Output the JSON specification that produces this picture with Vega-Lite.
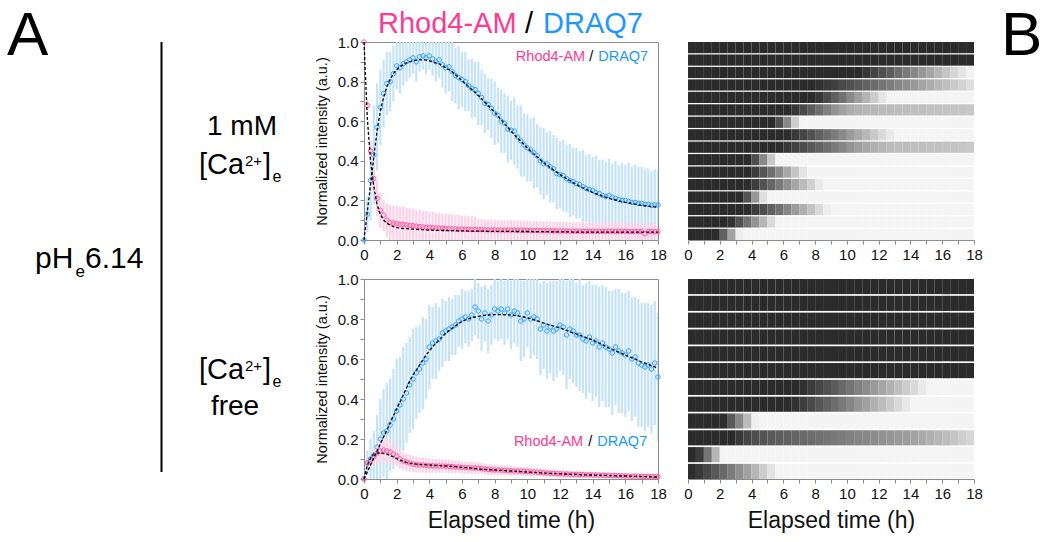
{
"$schema": "https://vega.github.io/schema/vega-lite/v6.json",
"padding": {"left": 0, "top": 5, "right": 0, "bottom": 0},
"background": "white",
"config": {
  "font": "Liberation Sans",
  "view": {"stroke": null},
  "axis": {"grid": false, "domainColor": "#8c8c8c", "tickColor": "#8c8c8c", "labelColor": "#111", "titleColor": "#111", "labelFontSize": 15, "titleFontWeight": "normal", "labelOverlap": false}
},
"datasets": {
"bins": [{"i":1,"t0":0,"t1":0.5},{"i":2,"t0":0.5,"t1":1},{"i":3,"t0":1,"t1":1.5},{"i":4,"t0":1.5,"t1":2},{"i":5,"t0":2,"t1":2.5},{"i":6,"t0":2.5,"t1":3},{"i":7,"t0":3,"t1":3.5},{"i":8,"t0":3.5,"t1":4},{"i":9,"t0":4,"t1":4.5},{"i":10,"t0":4.5,"t1":5},{"i":11,"t0":5,"t1":5.5},{"i":12,"t0":5.5,"t1":6},{"i":13,"t0":6,"t1":6.5},{"i":14,"t0":6.5,"t1":7},{"i":15,"t0":7,"t1":7.5},{"i":16,"t0":7.5,"t1":8},{"i":17,"t0":8,"t1":8.5},{"i":18,"t0":8.5,"t1":9},{"i":19,"t0":9,"t1":9.5},{"i":20,"t0":9.5,"t1":10},{"i":21,"t0":10,"t1":10.5},{"i":22,"t0":10.5,"t1":11},{"i":23,"t0":11,"t1":11.5},{"i":24,"t0":11.5,"t1":12},{"i":25,"t0":12,"t1":12.5},{"i":26,"t0":12.5,"t1":13},{"i":27,"t0":13,"t1":13.5},{"i":28,"t0":13.5,"t1":14},{"i":29,"t0":14,"t1":14.5},{"i":30,"t0":14.5,"t1":15},{"i":31,"t0":15,"t1":15.5},{"i":32,"t0":15.5,"t1":16},{"i":33,"t0":16,"t1":16.5},{"i":34,"t0":16.5,"t1":17},{"i":35,"t0":17,"t1":17.5},{"i":36,"t0":17.5,"t1":18}],
"hm": [
{"p":"top","r":1,"v":[0,0,0,0,0,0,0,0,0,0,0,0,0,0,0,0,0,0,0,0,0,0,0,0,0,0,0,0,0,0,0,0,0,0,0,0]},
{"p":"top","r":2,"v":[0,0,0,0,0,0,0,0,0,0,0,0,0,0,0,0,0,0,0,0,0,0,0,0,0,0,0,0,0,0,0,0,0,0,0,0]},
{"p":"top","r":3,"v":[0,0,0,0,0,0,0,0,0,0,0,0,0,0,0,0,0,0,0,0,0,0,0.07,0.14,0.21,0.28,0.36,0.43,0.5,0.57,0.64,0.72,0.79,0.86,0.93,0.99]},
{"p":"top","r":4,"v":[0,0,0,0,0,0,0,0,0,0,0,0,0,0,0,0,0.03,0.08,0.12,0.17,0.21,0.26,0.31,0.35,0.4,0.44,0.49,0.53,0.58,0.63,0.67,0.72,0.76,0.81,0.85,0.9]},
{"p":"top","r":5,"v":[0,0,0,0,0,0,0,0,0,0,0,0,0,0,0,0,0.07,0.18,0.29,0.39,0.5,0.61,0.71,0.82,0.93,1,1,1,1,1,1,1,1,1,1,1]},
{"p":"top","r":6,"v":[0,0,0,0,0,0,0,0,0,0,0,0,0,0.07,0.17,0.27,0.37,0.46,0.55,0.62,0.67,0.7,0.72,0.73,0.74,0.74,0.75,0.75,0.76,0.76,0.77,0.77,0.78,0.78,0.79,0.8]},
{"p":"top","r":7,"v":[0,0,0,0,0,0,0,0,0,0,0,0.2,0.5,0.83,1,1,1,1,1,1,1,1,1,1,1,1,1,1,1,1,1,1,1,1,1,1]},
{"p":"top","r":8,"v":[0,0,0,0,0,0,0,0,0,0,0,0,0.01,0.08,0.15,0.22,0.3,0.37,0.44,0.51,0.59,0.66,0.73,0.8,0.88,0.95,1,1,1,1,1,1,1,1,1,1]},
{"p":"top","r":9,"v":[0,0,0,0,0,0,0,0,0,0,0,0.02,0.07,0.13,0.19,0.25,0.31,0.37,0.43,0.49,0.55,0.6,0.65,0.69,0.72,0.74,0.75,0.75,0.76,0.76,0.77,0.77,0.78,0.78,0.79,0.8]},
{"p":"top","r":10,"v":[0,0,0,0,0,0,0,0,0.2,0.5,0.8,1,1,1,1,1,1,1,1,1,1,1,1,1,1,1,1,1,1,1,1,1,1,1,1,1]},
{"p":"top","r":11,"v":[0,0,0,0,0,0,0,0,0.1,0.24,0.38,0.51,0.65,0.79,0.93,1,1,1,1,1,1,1,1,1,1,1,1,1,1,1,1,1,1,1,1,1]},
{"p":"top","r":12,"v":[0,0,0,0,0,0,0,0.01,0.11,0.22,0.32,0.43,0.53,0.64,0.74,0.84,0.95,1,1,1,1,1,1,1,1,1,1,1,1,1,1,1,1,1,1,1]},
{"p":"top","r":13,"v":[0,0,0,0,0,0,0,0.23,0.57,0.9,1,1,1,1,1,1,1,1,1,1,1,1,1,1,1,1,1,1,1,1,1,1,1,1,1,1]},
{"p":"top","r":14,"v":[0,0,0,0,0,0,0,0.01,0.11,0.2,0.3,0.39,0.49,0.59,0.68,0.78,0.88,0.97,1,1,1,1,1,1,1,1,1,1,1,1,1,1,1,1,1,1]},
{"p":"top","r":15,"v":[0,0,0,0,0,0.05,0.22,0.38,0.55,0.72,0.88,1,1,1,1,1,1,1,1,1,1,1,1,1,1,1,1,1,1,1,1,1,1,1,1,1]},
{"p":"top","r":16,"v":[0,0,0,0,0.3,0.63,0.97,1,1,1,1,1,1,1,1,1,1,1,1,1,1,1,1,1,1,1,1,1,1,1,1,1,1,1,1,1]},
{"p":"bot","r":1,"v":[0,0,0,0,0,0,0,0,0,0,0,0,0,0,0,0,0,0,0,0,0,0,0,0,0,0,0,0,0,0,0,0,0,0,0,0]},
{"p":"bot","r":2,"v":[0,0,0,0,0,0,0,0,0,0,0,0,0,0,0,0,0,0,0,0,0,0,0,0,0,0,0,0,0,0,0,0,0,0,0,0]},
{"p":"bot","r":3,"v":[0,0,0,0,0,0,0,0,0,0,0,0,0,0,0,0,0,0,0,0,0,0,0,0,0,0,0,0,0,0,0,0,0,0,0,0]},
{"p":"bot","r":4,"v":[0,0,0,0,0,0,0,0,0,0,0,0,0,0,0,0,0,0,0,0,0,0,0,0,0,0,0,0,0,0,0,0,0,0,0,0]},
{"p":"bot","r":5,"v":[0,0,0,0,0,0,0,0,0,0,0,0,0,0,0,0,0,0,0,0,0,0,0,0,0,0,0,0,0,0,0,0,0,0,0,0]},
{"p":"bot","r":6,"v":[0,0,0,0,0,0,0,0,0,0,0,0,0,0,0,0,0,0,0,0,0,0,0,0,0,0,0,0,0,0,0,0,0,0,0,0]},
{"p":"bot","r":7,"v":[0,0,0,0,0,0,0,0,0,0,0,0,0,0,0.03,0.09,0.15,0.21,0.27,0.34,0.4,0.46,0.52,0.58,0.64,0.7,0.76,0.82,0.88,0.95,1,1,1,1,1,1]},
{"p":"bot","r":8,"v":[0,0,0,0,0,0,0,0,0,0,0,0,0,0.04,0.11,0.17,0.24,0.3,0.37,0.43,0.49,0.56,0.62,0.69,0.75,0.81,0.88,0.94,1,1,1,1,1,1,1,1]},
{"p":"bot","r":9,"v":[0,0,0,0,0.02,0.26,0.5,0.74,0.98,1,1,1,1,1,1,1,1,1,1,1,1,1,1,1,1,1,1,1,1,1,1,1,1,1,1,1]},
{"p":"bot","r":10,"v":[0,0,0,0,0,0,0.08,0.15,0.2,0.23,0.26,0.28,0.3,0.32,0.34,0.36,0.38,0.4,0.42,0.44,0.46,0.48,0.5,0.52,0.54,0.56,0.58,0.6,0.63,0.66,0.69,0.72,0.75,0.79,0.83,0.87]},
{"p":"bot","r":11,"v":[0,0.1,0.4,0.72,1,1,1,1,1,1,1,1,1,1,1,1,1,1,1,1,1,1,1,1,1,1,1,1,1,1,1,1,1,1,1,1]},
{"p":"bot","r":12,"v":[0.02,0.08,0.16,0.25,0.34,0.44,0.53,0.62,0.72,0.82,0.92,1,1,1,1,1,1,1,1,1,1,1,1,1,1,1,1,1,1,1,1,1,1,1,1,1]}
],
"top": [
{"t":0,"d":0,"de":0,"df":0,"r":1,"re":0,"rf":1},
{"t":0.2,"d":0.13,"de":0.09,"df":0.14,"r":0.68,"re":0.03,"rf":0.62},
{"t":0.4,"d":0.3,"de":0.2,"df":0.28,"r":0.45,"re":0.05,"rf":0.4},
{"t":0.6,"d":0.43,"de":0.25,"df":0.42,"r":0.31,"re":0.08,"rf":0.27},
{"t":0.8,"d":0.57,"de":0.22,"df":0.55,"r":0.21,"re":0.09,"rf":0.18},
{"t":1,"d":0.67,"de":0.19,"df":0.65,"r":0.15,"re":0.09,"rf":0.13},
{"t":1.2,"d":0.74,"de":0.17,"df":0.72,"r":0.125,"re":0.08,"rf":0.1},
{"t":1.4,"d":0.79,"de":0.16,"df":0.775,"r":0.1,"re":0.085,"rf":0.085},
{"t":1.6,"d":0.8,"de":0.15,"df":0.81,"r":0.088,"re":0.09,"rf":0.075},
{"t":1.8,"d":0.84,"de":0.14,"df":0.84,"r":0.085,"re":0.09,"rf":0.068},
{"t":2,"d":0.88,"de":0.12,"df":0.86,"r":0.082,"re":0.09,"rf":0.063},
{"t":2.2,"d":0.87,"de":0.13,"df":0.875,"r":0.08,"re":0.088,"rf":0.06},
{"t":2.4,"d":0.89,"de":0.11,"df":0.885,"r":0.079,"re":0.09,"rf":0.058},
{"t":2.6,"d":0.9,"de":0.1,"df":0.895,"r":0.076,"re":0.085,"rf":0.057},
{"t":2.8,"d":0.91,"de":0.09,"df":0.9,"r":0.074,"re":0.087,"rf":0.056},
{"t":3,"d":0.92,"de":0.08,"df":0.905,"r":0.072,"re":0.085,"rf":0.055},
{"t":3.2,"d":0.9,"de":0.1,"df":0.908,"r":0.07,"re":0.083,"rf":0.054},
{"t":3.4,"d":0.925,"de":0.075,"df":0.91,"r":0.068,"re":0.085,"rf":0.053},
{"t":3.6,"d":0.93,"de":0.07,"df":0.91,"r":0.066,"re":0.08,"rf":0.052},
{"t":3.8,"d":0.92,"de":0.08,"df":0.908,"r":0.064,"re":0.082,"rf":0.051},
{"t":4,"d":0.93,"de":0.07,"df":0.905,"r":0.063,"re":0.078,"rf":0.05},
{"t":4.2,"d":0.915,"de":0.085,"df":0.9,"r":0.062,"re":0.08,"rf":0.05},
{"t":4.4,"d":0.9,"de":0.1,"df":0.895,"r":0.061,"re":0.076,"rf":0.049},
{"t":4.6,"d":0.91,"de":0.09,"df":0.89,"r":0.06,"re":0.078,"rf":0.049},
{"t":4.8,"d":0.885,"de":0.115,"df":0.88,"r":0.06,"re":0.074,"rf":0.048},
{"t":5,"d":0.87,"de":0.13,"df":0.87,"r":0.058,"re":0.075,"rf":0.048},
{"t":5.2,"d":0.875,"de":0.125,"df":0.86,"r":0.057,"re":0.072,"rf":0.047},
{"t":5.4,"d":0.85,"de":0.15,"df":0.85,"r":0.056,"re":0.074,"rf":0.047},
{"t":5.6,"d":0.83,"de":0.14,"df":0.835,"r":0.056,"re":0.07,"rf":0.047},
{"t":5.8,"d":0.82,"de":0.16,"df":0.82,"r":0.055,"re":0.072,"rf":0.046},
{"t":6,"d":0.81,"de":0.14,"df":0.805,"r":0.055,"re":0.068,"rf":0.046},
{"t":6.2,"d":0.8,"de":0.15,"df":0.79,"r":0.054,"re":0.07,"rf":0.046},
{"t":6.4,"d":0.78,"de":0.13,"df":0.775,"r":0.054,"re":0.066,"rf":0.045},
{"t":6.6,"d":0.765,"de":0.15,"df":0.76,"r":0.053,"re":0.068,"rf":0.045},
{"t":6.8,"d":0.76,"de":0.14,"df":0.745,"r":0.053,"re":0.065,"rf":0.045},
{"t":7,"d":0.74,"de":0.16,"df":0.73,"r":0.052,"re":0.052,"rf":0.045},
{"t":7.2,"d":0.72,"de":0.14,"df":0.713,"r":0.052,"re":0.052,"rf":0.045},
{"t":7.4,"d":0.69,"de":0.15,"df":0.696,"r":0.052,"re":0.052,"rf":0.045},
{"t":7.6,"d":0.685,"de":0.13,"df":0.679,"r":0.051,"re":0.051,"rf":0.044},
{"t":7.8,"d":0.665,"de":0.15,"df":0.662,"r":0.051,"re":0.051,"rf":0.044},
{"t":8,"d":0.64,"de":0.16,"df":0.645,"r":0.051,"re":0.051,"rf":0.044},
{"t":8.2,"d":0.63,"de":0.14,"df":0.626,"r":0.05,"re":0.05,"rf":0.044},
{"t":8.4,"d":0.6,"de":0.16,"df":0.607,"r":0.05,"re":0.05,"rf":0.044},
{"t":8.6,"d":0.59,"de":0.15,"df":0.588,"r":0.05,"re":0.05,"rf":0.044},
{"t":8.8,"d":0.56,"de":0.17,"df":0.569,"r":0.05,"re":0.05,"rf":0.044},
{"t":9,"d":0.555,"de":0.15,"df":0.55,"r":0.05,"re":0.05,"rf":0.044},
{"t":9.2,"d":0.55,"de":0.17,"df":0.533,"r":0.05,"re":0.05,"rf":0.043},
{"t":9.4,"d":0.52,"de":0.16,"df":0.516,"r":0.05,"re":0.05,"rf":0.043},
{"t":9.6,"d":0.5,"de":0.18,"df":0.499,"r":0.049,"re":0.049,"rf":0.043},
{"t":9.8,"d":0.48,"de":0.16,"df":0.482,"r":0.049,"re":0.049,"rf":0.043},
{"t":10,"d":0.465,"de":0.17,"df":0.465,"r":0.049,"re":0.049,"rf":0.043},
{"t":10.2,"d":0.455,"de":0.16,"df":0.45,"r":0.048,"re":0.048,"rf":0.043},
{"t":10.4,"d":0.44,"de":0.18,"df":0.435,"r":0.048,"re":0.048,"rf":0.042},
{"t":10.6,"d":0.425,"de":0.16,"df":0.42,"r":0.048,"re":0.048,"rf":0.042},
{"t":10.8,"d":0.4,"de":0.17,"df":0.405,"r":0.047,"re":0.047,"rf":0.042},
{"t":11,"d":0.385,"de":0.18,"df":0.39,"r":0.047,"re":0.047,"rf":0.042},
{"t":11.2,"d":0.385,"de":0.16,"df":0.378,"r":0.047,"re":0.047,"rf":0.042},
{"t":11.4,"d":0.37,"de":0.18,"df":0.366,"r":0.047,"re":0.047,"rf":0.042},
{"t":11.6,"d":0.36,"de":0.17,"df":0.354,"r":0.046,"re":0.046,"rf":0.041},
{"t":11.8,"d":0.335,"de":0.18,"df":0.342,"r":0.046,"re":0.046,"rf":0.041},
{"t":12,"d":0.33,"de":0.17,"df":0.33,"r":0.046,"re":0.046,"rf":0.041},
{"t":12.2,"d":0.325,"de":0.18,"df":0.32,"r":0.046,"re":0.046,"rf":0.041},
{"t":12.4,"d":0.31,"de":0.17,"df":0.31,"r":0.045,"re":0.045,"rf":0.041},
{"t":12.6,"d":0.3,"de":0.185,"df":0.3,"r":0.045,"re":0.045,"rf":0.041},
{"t":12.8,"d":0.295,"de":0.17,"df":0.29,"r":0.045,"re":0.045,"rf":0.04},
{"t":13,"d":0.285,"de":0.18,"df":0.28,"r":0.045,"re":0.045,"rf":0.04},
{"t":13.2,"d":0.28,"de":0.17,"df":0.272,"r":0.045,"re":0.045,"rf":0.04},
{"t":13.4,"d":0.27,"de":0.185,"df":0.264,"r":0.044,"re":0.044,"rf":0.04},
{"t":13.6,"d":0.26,"de":0.17,"df":0.256,"r":0.044,"re":0.044,"rf":0.04},
{"t":13.8,"d":0.255,"de":0.18,"df":0.248,"r":0.044,"re":0.044,"rf":0.04},
{"t":14,"d":0.25,"de":0.17,"df":0.24,"r":0.044,"re":0.044,"rf":0.04},
{"t":14.2,"d":0.24,"de":0.185,"df":0.234,"r":0.044,"re":0.044,"rf":0.04},
{"t":14.4,"d":0.235,"de":0.17,"df":0.228,"r":0.044,"re":0.044,"rf":0.04},
{"t":14.6,"d":0.225,"de":0.18,"df":0.222,"r":0.044,"re":0.044,"rf":0.04},
{"t":14.8,"d":0.22,"de":0.175,"df":0.216,"r":0.044,"re":0.044,"rf":0.04},
{"t":15,"d":0.225,"de":0.185,"df":0.21,"r":0.044,"re":0.044,"rf":0.04},
{"t":15.2,"d":0.215,"de":0.17,"df":0.206,"r":0.044,"re":0.044,"rf":0.04},
{"t":15.4,"d":0.21,"de":0.19,"df":0.202,"r":0.044,"re":0.044,"rf":0.04},
{"t":15.6,"d":0.205,"de":0.175,"df":0.198,"r":0.044,"re":0.044,"rf":0.04},
{"t":15.8,"d":0.2,"de":0.19,"df":0.194,"r":0.044,"re":0.044,"rf":0.04},
{"t":16,"d":0.2,"de":0.18,"df":0.19,"r":0.044,"re":0.044,"rf":0.04},
{"t":16.2,"d":0.195,"de":0.195,"df":0.187,"r":0.043,"re":0.043,"rf":0.04},
{"t":16.4,"d":0.19,"de":0.18,"df":0.184,"r":0.043,"re":0.043,"rf":0.04},
{"t":16.6,"d":0.19,"de":0.19,"df":0.181,"r":0.043,"re":0.043,"rf":0.04},
{"t":16.8,"d":0.185,"de":0.185,"df":0.178,"r":0.043,"re":0.043,"rf":0.04},
{"t":17,"d":0.185,"de":0.185,"df":0.175,"r":0.043,"re":0.043,"rf":0.04},
{"t":17.2,"d":0.18,"de":0.18,"df":0.173,"r":0.032,"re":0.032,"rf":0.04},
{"t":17.4,"d":0.18,"de":0.18,"df":0.171,"r":0.043,"re":0.043,"rf":0.04},
{"t":17.6,"d":0.175,"de":0.175,"df":0.169,"r":0.043,"re":0.043,"rf":0.04},
{"t":17.8,"d":0.178,"de":0.178,"df":0.167,"r":0.043,"re":0.043,"rf":0.04},
{"t":18,"d":0.177,"de":0.177,"df":0.165,"r":0.042,"re":0.042,"rf":0.04}
],
"bot": [
{"t":0,"d":0,"de":0,"df":0,"r":0,"re":0,"rf":0},
{"t":0.2,"d":0.08,"de":0.06,"df":0.035,"r":0.08,"re":0.02,"rf":0.07},
{"t":0.4,"d":0.1,"de":0.1,"df":0.07,"r":0.09,"re":0.03,"rf":0.105},
{"t":0.6,"d":0.12,"de":0.12,"df":0.105,"r":0.11,"re":0.045,"rf":0.125},
{"t":0.8,"d":0.16,"de":0.16,"df":0.14,"r":0.13,"re":0.055,"rf":0.13},
{"t":1,"d":0.2,"de":0.2,"df":0.175,"r":0.14,"re":0.06,"rf":0.13},
{"t":1.2,"d":0.23,"de":0.22,"df":0.21,"r":0.145,"re":0.06,"rf":0.128},
{"t":1.4,"d":0.24,"de":0.24,"df":0.245,"r":0.14,"re":0.062,"rf":0.124},
{"t":1.6,"d":0.27,"de":0.23,"df":0.28,"r":0.135,"re":0.06,"rf":0.118},
{"t":1.8,"d":0.3,"de":0.25,"df":0.315,"r":0.125,"re":0.055,"rf":0.11},
{"t":2,"d":0.34,"de":0.26,"df":0.35,"r":0.115,"re":0.05,"rf":0.102},
{"t":2.2,"d":0.37,"de":0.24,"df":0.385,"r":0.1,"re":0.048,"rf":0.095},
{"t":2.4,"d":0.4,"de":0.26,"df":0.42,"r":0.09,"re":0.045,"rf":0.088},
{"t":2.6,"d":0.43,"de":0.25,"df":0.455,"r":0.085,"re":0.043,"rf":0.083},
{"t":2.8,"d":0.47,"de":0.24,"df":0.49,"r":0.08,"re":0.042,"rf":0.079},
{"t":3,"d":0.5,"de":0.25,"df":0.52,"r":0.075,"re":0.04,"rf":0.076},
{"t":3.2,"d":0.53,"de":0.23,"df":0.545,"r":0.072,"re":0.04,"rf":0.074},
{"t":3.4,"d":0.55,"de":0.22,"df":0.57,"r":0.07,"re":0.038,"rf":0.073},
{"t":3.6,"d":0.58,"de":0.23,"df":0.595,"r":0.07,"re":0.038,"rf":0.072},
{"t":3.8,"d":0.6,"de":0.2,"df":0.62,"r":0.068,"re":0.037,"rf":0.071},
{"t":4,"d":0.66,"de":0.21,"df":0.64,"r":0.066,"re":0.036,"rf":0.07},
{"t":4.2,"d":0.68,"de":0.18,"df":0.66,"r":0.066,"re":0.035,"rf":0.069},
{"t":4.4,"d":0.69,"de":0.19,"df":0.678,"r":0.065,"re":0.035,"rf":0.068},
{"t":4.6,"d":0.7,"de":0.16,"df":0.695,"r":0.065,"re":0.034,"rf":0.067},
{"t":4.8,"d":0.73,"de":0.17,"df":0.712,"r":0.065,"re":0.034,"rf":0.066},
{"t":5,"d":0.74,"de":0.15,"df":0.727,"r":0.064,"re":0.033,"rf":0.065},
{"t":5.2,"d":0.75,"de":0.16,"df":0.741,"r":0.063,"re":0.033,"rf":0.064},
{"t":5.4,"d":0.76,"de":0.14,"df":0.754,"r":0.062,"re":0.032,"rf":0.063},
{"t":5.6,"d":0.77,"de":0.15,"df":0.766,"r":0.06,"re":0.032,"rf":0.062},
{"t":5.8,"d":0.79,"de":0.13,"df":0.777,"r":0.06,"re":0.031,"rf":0.06},
{"t":6,"d":0.8,"de":0.15,"df":0.787,"r":0.058,"re":0.031,"rf":0.058},
{"t":6.2,"d":0.81,"de":0.13,"df":0.795,"r":0.057,"re":0.03,"rf":0.057},
{"t":6.4,"d":0.8,"de":0.14,"df":0.801,"r":0.056,"re":0.03,"rf":0.056},
{"t":6.6,"d":0.82,"de":0.13,"df":0.806,"r":0.055,"re":0.03,"rf":0.054},
{"t":6.8,"d":0.86,"de":0.14,"df":0.81,"r":0.055,"re":0.029,"rf":0.052},
{"t":7,"d":0.84,"de":0.14,"df":0.813,"r":0.054,"re":0.029,"rf":0.05},
{"t":7.2,"d":0.8,"de":0.16,"df":0.816,"r":0.052,"re":0.028,"rf":0.049},
{"t":7.4,"d":0.83,"de":0.14,"df":0.818,"r":0.05,"re":0.028,"rf":0.048},
{"t":7.6,"d":0.79,"de":0.16,"df":0.82,"r":0.047,"re":0.027,"rf":0.047},
{"t":7.8,"d":0.82,"de":0.15,"df":0.821,"r":0.046,"re":0.027,"rf":0.046},
{"t":8,"d":0.85,"de":0.15,"df":0.822,"r":0.045,"re":0.026,"rf":0.045},
{"t":8.2,"d":0.84,"de":0.15,"df":0.822,"r":0.045,"re":0.026,"rf":0.044},
{"t":8.4,"d":0.85,"de":0.15,"df":0.822,"r":0.044,"re":0.025,"rf":0.043},
{"t":8.6,"d":0.83,"de":0.16,"df":0.822,"r":0.043,"re":0.025,"rf":0.042},
{"t":8.8,"d":0.85,"de":0.15,"df":0.821,"r":0.042,"re":0.024,"rf":0.041},
{"t":9,"d":0.82,"de":0.17,"df":0.82,"r":0.041,"re":0.024,"rf":0.04},
{"t":9.2,"d":0.84,"de":0.16,"df":0.818,"r":0.04,"re":0.023,"rf":0.039},
{"t":9.4,"d":0.83,"de":0.17,"df":0.816,"r":0.04,"re":0.023,"rf":0.038},
{"t":9.6,"d":0.79,"de":0.2,"df":0.813,"r":0.039,"re":0.023,"rf":0.037},
{"t":9.8,"d":0.8,"de":0.19,"df":0.81,"r":0.038,"re":0.022,"rf":0.036},
{"t":10,"d":0.83,"de":0.17,"df":0.806,"r":0.037,"re":0.022,"rf":0.035},
{"t":10.2,"d":0.8,"de":0.2,"df":0.801,"r":0.036,"re":0.022,"rf":0.034},
{"t":10.4,"d":0.81,"de":0.19,"df":0.796,"r":0.035,"re":0.022,"rf":0.033},
{"t":10.6,"d":0.8,"de":0.2,"df":0.791,"r":0.034,"re":0.021,"rf":0.032},
{"t":10.8,"d":0.75,"de":0.23,"df":0.786,"r":0.033,"re":0.021,"rf":0.031},
{"t":11,"d":0.77,"de":0.22,"df":0.78,"r":0.031,"re":0.021,"rf":0.03},
{"t":11.2,"d":0.74,"de":0.24,"df":0.775,"r":0.03,"re":0.02,"rf":0.029},
{"t":11.4,"d":0.76,"de":0.23,"df":0.77,"r":0.029,"re":0.02,"rf":0.028},
{"t":11.6,"d":0.74,"de":0.25,"df":0.765,"r":0.028,"re":0.02,"rf":0.028},
{"t":11.8,"d":0.75,"de":0.24,"df":0.76,"r":0.027,"re":0.02,"rf":0.027},
{"t":12,"d":0.77,"de":0.23,"df":0.755,"r":0.026,"re":0.019,"rf":0.026},
{"t":12.2,"d":0.76,"de":0.24,"df":0.749,"r":0.025,"re":0.019,"rf":0.025},
{"t":12.4,"d":0.72,"de":0.27,"df":0.743,"r":0.025,"re":0.018,"rf":0.025},
{"t":12.6,"d":0.75,"de":0.25,"df":0.737,"r":0.024,"re":0.018,"rf":0.024},
{"t":12.8,"d":0.74,"de":0.26,"df":0.731,"r":0.023,"re":0.018,"rf":0.023},
{"t":13,"d":0.72,"de":0.26,"df":0.725,"r":0.023,"re":0.017,"rf":0.023},
{"t":13.2,"d":0.72,"de":0.28,"df":0.719,"r":0.022,"re":0.017,"rf":0.022},
{"t":13.4,"d":0.7,"de":0.27,"df":0.713,"r":0.022,"re":0.017,"rf":0.021},
{"t":13.6,"d":0.69,"de":0.29,"df":0.707,"r":0.021,"re":0.016,"rf":0.021},
{"t":13.8,"d":0.71,"de":0.28,"df":0.701,"r":0.021,"re":0.016,"rf":0.02},
{"t":14,"d":0.68,"de":0.29,"df":0.695,"r":0.02,"re":0.016,"rf":0.02},
{"t":14.2,"d":0.69,"de":0.28,"df":0.687,"r":0.02,"re":0.016,"rf":0.019},
{"t":14.4,"d":0.66,"de":0.3,"df":0.679,"r":0.019,"re":0.015,"rf":0.019},
{"t":14.6,"d":0.68,"de":0.29,"df":0.671,"r":0.019,"re":0.015,"rf":0.018},
{"t":14.8,"d":0.66,"de":0.3,"df":0.663,"r":0.018,"re":0.015,"rf":0.018},
{"t":15,"d":0.65,"de":0.29,"df":0.655,"r":0.018,"re":0.015,"rf":0.017},
{"t":15.2,"d":0.63,"de":0.31,"df":0.648,"r":0.017,"re":0.015,"rf":0.017},
{"t":15.4,"d":0.66,"de":0.29,"df":0.641,"r":0.017,"re":0.014,"rf":0.016},
{"t":15.6,"d":0.64,"de":0.31,"df":0.634,"r":0.016,"re":0.014,"rf":0.016},
{"t":15.8,"d":0.63,"de":0.3,"df":0.627,"r":0.016,"re":0.014,"rf":0.015},
{"t":16,"d":0.62,"de":0.31,"df":0.62,"r":0.015,"re":0.014,"rf":0.015},
{"t":16.2,"d":0.64,"de":0.3,"df":0.613,"r":0.015,"re":0.014,"rf":0.014},
{"t":16.4,"d":0.6,"de":0.31,"df":0.606,"r":0.014,"re":0.013,"rf":0.014},
{"t":16.6,"d":0.61,"de":0.3,"df":0.599,"r":0.014,"re":0.013,"rf":0.013},
{"t":16.8,"d":0.58,"de":0.32,"df":0.592,"r":0.014,"re":0.013,"rf":0.013},
{"t":17,"d":0.57,"de":0.31,"df":0.585,"r":0.013,"re":0.013,"rf":0.012},
{"t":17.2,"d":0.56,"de":0.32,"df":0.579,"r":0.013,"re":0.013,"rf":0.012},
{"t":17.4,"d":0.57,"de":0.31,"df":0.573,"r":0.013,"re":0.012,"rf":0.011},
{"t":17.6,"d":0.55,"de":0.32,"df":0.567,"r":0.012,"re":0.012,"rf":0.011},
{"t":17.8,"d":0.58,"de":0.31,"df":0.561,"r":0.012,"re":0.012,"rf":0.01},
{"t":18,"d":0.51,"de":0.32,"df":0.555,"r":0.012,"re":0.012,"rf":0.01}
]
},
"columns": 3,
"align": "each",
"bounds": "flush",
"spacing": {"row": 39, "column": 30},
"concat": [
{
 "width": 334, "height": 198,
 "data": {"values": [{}]},
 "layer": [
  {"mark": {"type": "rule", "color": "#000", "strokeWidth": 2},
   "encoding": {"x": {"datum": 161.5, "scale": {"domain": [0, 334], "nice": false, "zero": false}, "axis": null},
                "y": {"datum": 0, "scale": {"domain": [0, 198], "nice": false, "zero": false, "reverse": true}, "axis": null},
                "y2": {"datum": 430}}},
  {"mark": {"type": "text", "text": "A", "fontSize": 62, "align": "left", "baseline": "alphabetic", "color": "#000"},
   "encoding": {"x": {"datum": 7, "axis": null}, "y": {"datum": 13, "axis": null}}},
  {"mark": {"type": "text", "text": "B", "fontSize": 62, "align": "left", "baseline": "alphabetic", "color": "#000"},
   "encoding": {"x": {"datum": 1001, "axis": null}, "y": {"datum": 13, "axis": null}}},
  {"mark": {"type": "text", "text": "Rhod4-AM", "fontSize": 29, "align": "left", "baseline": "alphabetic", "color": "#ff3a93"},
   "encoding": {"x": {"datum": 378, "axis": null}, "y": {"datum": -9, "axis": null}}},
  {"mark": {"type": "text", "text": "/", "fontSize": 29, "align": "left", "baseline": "alphabetic", "color": "#000"},
   "encoding": {"x": {"datum": 525, "axis": null}, "y": {"datum": -9, "axis": null}}},
  {"mark": {"type": "text", "text": "DRAQ7", "fontSize": 29, "align": "left", "baseline": "alphabetic", "color": "#1e98ff"},
   "encoding": {"x": {"datum": 543, "axis": null}, "y": {"datum": -9, "axis": null}}},
  {"mark": {"type": "text", "text": "pH", "fontSize": 30, "align": "left", "baseline": "alphabetic", "color": "#000"},
   "encoding": {"x": {"datum": 35, "axis": null}, "y": {"datum": 226, "axis": null}}},
  {"mark": {"type": "text", "text": "e", "fontSize": 17, "align": "left", "baseline": "alphabetic", "color": "#000"},
   "encoding": {"x": {"datum": 75.5, "axis": null}, "y": {"datum": 235, "axis": null}}},
  {"mark": {"type": "text", "text": "6.14", "fontSize": 30, "align": "left", "baseline": "alphabetic", "color": "#000"},
   "encoding": {"x": {"datum": 85, "axis": null}, "y": {"datum": 226, "axis": null}}},
  {"mark": {"type": "text", "text": "1 mM", "fontSize": 28, "align": "center", "baseline": "alphabetic", "color": "#000"},
   "encoding": {"x": {"datum": 242, "axis": null}, "y": {"datum": 93, "axis": null}}},
  {"mark": {"type": "text", "text": "[Ca", "fontSize": 29, "align": "left", "baseline": "alphabetic", "color": "#000"},
   "encoding": {"x": {"datum": 199, "axis": null}, "y": {"datum": 132, "axis": null}}},
  {"mark": {"type": "text", "text": "2+", "fontSize": 15, "align": "left", "baseline": "alphabetic", "color": "#000"},
   "encoding": {"x": {"datum": 245, "axis": null}, "y": {"datum": 124, "axis": null}}},
  {"mark": {"type": "text", "text": "]", "fontSize": 29, "align": "left", "baseline": "alphabetic", "color": "#000"},
   "encoding": {"x": {"datum": 263, "axis": null}, "y": {"datum": 132, "axis": null}}},
  {"mark": {"type": "text", "text": "e", "fontSize": 16, "align": "left", "baseline": "alphabetic", "color": "#000"},
   "encoding": {"x": {"datum": 272.5, "axis": null}, "y": {"datum": 140, "axis": null}}}
 ]
},
{
 "width": 294, "height": 198,
 "data": {"name": "top"},
 "view": {"stroke": "#8c8c8c"},
 "layer": [
  {"mark": {"type": "errorbar", "color": "#c4e3fb", "thickness": 2.2, "clip": true},
   "encoding": {
     "x": {"field": "t", "type": "quantitative", "title": null, "scale": {"domain": [0, 18], "nice": false},
           "axis": {"title": null, "values": [0,1,2,3,4,5,6,7,8,9,10,11,12,13,14,15,16,17,18], "labelExpr": "datum.value % 2 == 0 ? datum.label : ''", "labelFlush": false, "labelOverlap": false, "tickSize": 4, "labelPadding": 3}},
     "y": {"field": "d", "type": "quantitative", "title": "Normalized intensity (a.u.)", "scale": {"domain": [0, 1], "nice": false, "clamp": true},
           "axis": {"title": "Normalized intensity (a.u.)", "titleFontSize": 14.5, "titlePadding": 8, "values": [0,0.1,0.2,0.3,0.4,0.5,0.6,0.7,0.8,0.9,1], "labelExpr": "round(datum.value*10) % 2 == 0 ? format(datum.value, '.1f') : ''", "labelOverlap": false, "tickSize": 4, "labelPadding": 2}},
     "yError": {"field": "de"}}},
  {"mark": {"type": "errorbar", "color": "#ffcfe3", "thickness": 2.2, "clip": true},
   "encoding": {
     "x": {"field": "t", "type": "quantitative", "title": null, "scale": {"domain": [0, 18], "nice": false},
           "axis": {"title": null, "values": [0,1,2,3,4,5,6,7,8,9,10,11,12,13,14,15,16,17,18], "labelExpr": "datum.value % 2 == 0 ? datum.label : ''", "labelFlush": false, "labelOverlap": false, "tickSize": 4, "labelPadding": 3}},
     "y": {"field": "r", "type": "quantitative", "title": "Normalized intensity (a.u.)", "scale": {"domain": [0, 1], "nice": false, "clamp": true},
           "axis": {"title": "Normalized intensity (a.u.)", "titleFontSize": 14.5, "titlePadding": 8, "values": [0,0.1,0.2,0.3,0.4,0.5,0.6,0.7,0.8,0.9,1], "labelExpr": "round(datum.value*10) % 2 == 0 ? format(datum.value, '.1f') : ''", "labelOverlap": false, "tickSize": 4, "labelPadding": 2}},
     "yError": {"field": "re"}}},
  {"mark": {"type": "point", "filled": false, "color": "#3aa3f5", "size": 20, "strokeWidth": 1, "opacity": 1},
   "encoding": {
     "x": {"field": "t", "type": "quantitative", "title": null, "scale": {"domain": [0, 18], "nice": false},
           "axis": {"title": null, "values": [0,1,2,3,4,5,6,7,8,9,10,11,12,13,14,15,16,17,18], "labelExpr": "datum.value % 2 == 0 ? datum.label : ''", "labelFlush": false, "labelOverlap": false, "tickSize": 4, "labelPadding": 3}},
     "y": {"field": "d", "type": "quantitative", "title": "Normalized intensity (a.u.)", "scale": {"domain": [0, 1], "nice": false, "clamp": true},
           "axis": {"title": "Normalized intensity (a.u.)", "titleFontSize": 14.5, "titlePadding": 8, "values": [0,0.1,0.2,0.3,0.4,0.5,0.6,0.7,0.8,0.9,1], "labelExpr": "round(datum.value*10) % 2 == 0 ? format(datum.value, '.1f') : ''", "labelOverlap": false, "tickSize": 4, "labelPadding": 2}}}},
  {"mark": {"type": "point", "filled": false, "color": "#ff58a6", "size": 20, "strokeWidth": 1, "opacity": 1},
   "encoding": {
     "x": {"field": "t", "type": "quantitative", "title": null, "scale": {"domain": [0, 18], "nice": false},
           "axis": {"title": null, "values": [0,1,2,3,4,5,6,7,8,9,10,11,12,13,14,15,16,17,18], "labelExpr": "datum.value % 2 == 0 ? datum.label : ''", "labelFlush": false, "labelOverlap": false, "tickSize": 4, "labelPadding": 3}},
     "y": {"field": "r", "type": "quantitative", "title": "Normalized intensity (a.u.)", "scale": {"domain": [0, 1], "nice": false, "clamp": true},
           "axis": {"title": "Normalized intensity (a.u.)", "titleFontSize": 14.5, "titlePadding": 8, "values": [0,0.1,0.2,0.3,0.4,0.5,0.6,0.7,0.8,0.9,1], "labelExpr": "round(datum.value*10) % 2 == 0 ? format(datum.value, '.1f') : ''", "labelOverlap": false, "tickSize": 4, "labelPadding": 2}}}},
  {"mark": {"type": "line", "color": "#000", "strokeWidth": 1.3, "strokeDash": [3, 2]},
   "encoding": {
     "x": {"field": "t", "type": "quantitative", "title": null, "scale": {"domain": [0, 18], "nice": false},
           "axis": {"title": null, "values": [0,1,2,3,4,5,6,7,8,9,10,11,12,13,14,15,16,17,18], "labelExpr": "datum.value % 2 == 0 ? datum.label : ''", "labelFlush": false, "labelOverlap": false, "tickSize": 4, "labelPadding": 3}},
     "y": {"field": "df", "type": "quantitative", "title": "Normalized intensity (a.u.)", "scale": {"domain": [0, 1], "nice": false, "clamp": true},
           "axis": {"title": "Normalized intensity (a.u.)", "titleFontSize": 14.5, "titlePadding": 8, "values": [0,0.1,0.2,0.3,0.4,0.5,0.6,0.7,0.8,0.9,1], "labelExpr": "round(datum.value*10) % 2 == 0 ? format(datum.value, '.1f') : ''", "labelOverlap": false, "tickSize": 4, "labelPadding": 2}}}},
  {"mark": {"type": "line", "color": "#000", "strokeWidth": 1.3, "strokeDash": [3, 2]},
   "encoding": {
     "x": {"field": "t", "type": "quantitative", "title": null, "scale": {"domain": [0, 18], "nice": false},
           "axis": {"title": null, "values": [0,1,2,3,4,5,6,7,8,9,10,11,12,13,14,15,16,17,18], "labelExpr": "datum.value % 2 == 0 ? datum.label : ''", "labelFlush": false, "labelOverlap": false, "tickSize": 4, "labelPadding": 3}},
     "y": {"field": "rf", "type": "quantitative", "title": "Normalized intensity (a.u.)", "scale": {"domain": [0, 1], "nice": false, "clamp": true},
           "axis": {"title": "Normalized intensity (a.u.)", "titleFontSize": 14.5, "titlePadding": 8, "values": [0,0.1,0.2,0.3,0.4,0.5,0.6,0.7,0.8,0.9,1], "labelExpr": "round(datum.value*10) % 2 == 0 ? format(datum.value, '.1f') : ''", "labelOverlap": false, "tickSize": 4, "labelPadding": 2}}}},
  {"data": {"values": [{}]},
   "mark": {"type": "text", "text": "Rhod4-AM", "fontSize": 14.5, "align": "right", "baseline": "middle", "color": "#ff3a93"},
   "encoding": {
     "x": {"datum": 13.54, "scale": {"domain": [0, 18], "nice": false}, "axis": {"title": null, "values": [0,1,2,3,4,5,6,7,8,9,10,11,12,13,14,15,16,17,18], "labelExpr": "datum.value % 2 == 0 ? datum.label : ''", "labelFlush": false, "labelOverlap": false, "tickSize": 4, "labelPadding": 3}},
     "y": {"datum": 0.925, "scale": {"domain": [0, 1], "nice": false, "clamp": true}, "axis": {"title": "Normalized intensity (a.u.)", "titleFontSize": 14.5, "titlePadding": 8, "values": [0,0.1,0.2,0.3,0.4,0.5,0.6,0.7,0.8,0.9,1], "labelExpr": "round(datum.value*10) % 2 == 0 ? format(datum.value, '.1f') : ''", "labelOverlap": false, "tickSize": 4, "labelPadding": 2}}}},
  {"data": {"values": [{}]},
   "mark": {"type": "text", "text": "/", "fontSize": 14.5, "align": "center", "baseline": "middle", "color": "#000"},
   "encoding": {
     "x": {"datum": 13.91, "scale": {"domain": [0, 18], "nice": false}, "axis": {"title": null, "values": [0,1,2,3,4,5,6,7,8,9,10,11,12,13,14,15,16,17,18], "labelExpr": "datum.value % 2 == 0 ? datum.label : ''", "labelFlush": false, "labelOverlap": false, "tickSize": 4, "labelPadding": 3}},
     "y": {"datum": 0.925, "scale": {"domain": [0, 1], "nice": false, "clamp": true}, "axis": {"title": "Normalized intensity (a.u.)", "titleFontSize": 14.5, "titlePadding": 8, "values": [0,0.1,0.2,0.3,0.4,0.5,0.6,0.7,0.8,0.9,1], "labelExpr": "round(datum.value*10) % 2 == 0 ? format(datum.value, '.1f') : ''", "labelOverlap": false, "tickSize": 4, "labelPadding": 2}}}},
  {"data": {"values": [{}]},
   "mark": {"type": "text", "text": "DRAQ7", "fontSize": 14.5, "align": "right", "baseline": "middle", "color": "#1e98ff"},
   "encoding": {
     "x": {"datum": 17.4, "scale": {"domain": [0, 18], "nice": false}, "axis": {"title": null, "values": [0,1,2,3,4,5,6,7,8,9,10,11,12,13,14,15,16,17,18], "labelExpr": "datum.value % 2 == 0 ? datum.label : ''", "labelFlush": false, "labelOverlap": false, "tickSize": 4, "labelPadding": 3}},
     "y": {"datum": 0.925, "scale": {"domain": [0, 1], "nice": false, "clamp": true}, "axis": {"title": "Normalized intensity (a.u.)", "titleFontSize": 14.5, "titlePadding": 8, "values": [0,0.1,0.2,0.3,0.4,0.5,0.6,0.7,0.8,0.9,1], "labelExpr": "round(datum.value*10) % 2 == 0 ? format(datum.value, '.1f') : ''", "labelOverlap": false, "tickSize": 4, "labelPadding": 2}}}}
 ]
},
{
 "width": 286, "height": 198,
 "data": {"name": "hm"},
 "transform": [
   {"filter": "datum.p == 'top'"},
   {"flatten": ["v"]},
   {"window": [{"op": "row_number", "as": "i"}], "groupby": ["p", "r"]},
   {"lookup": "i", "from": {"data": {"name": "bins"}, "key": "i", "fields": ["t0", "t1"]}}
 ],
 "mark": {"type": "rect"},
 "encoding": {
   "x": {"field": "t0", "type": "quantitative", "scale": {"domain": [0, 18], "nice": false},
         "axis": {"title": null, "values": [0,1,2,3,4,5,6,7,8,9,10,11,12,13,14,15,16,17,18], "labelExpr": "datum.value % 2 == 0 ? datum.label : ''", "labelFlush": false, "labelOverlap": false, "tickSize": 4, "labelPadding": 3}},
   "x2": {"field": "t1"},
   "y": {"field": "r", "type": "ordinal", "scale": {"paddingInner": 0.1, "paddingOuter": 0}, "axis": null},
   "color": {"field": "v", "type": "quantitative", "scale": {"domain": [0, 1], "range": ["#2b2b2b", "#f4f4f4"]}, "legend": null}
 }
},
{
 "width": 334, "height": 200,
 "data": {"values": [{}]},
 "layer": [
  {"mark": {"type": "text", "text": "[Ca", "fontSize": 29, "align": "left", "baseline": "alphabetic", "color": "#000"},
   "encoding": {"x": {"datum": 199, "scale": {"domain": [0, 334], "nice": false, "zero": false}, "axis": null},
                "y": {"datum": 100, "scale": {"domain": [0, 200], "nice": false, "zero": false, "reverse": true}, "axis": null}}},
  {"mark": {"type": "text", "text": "2+", "fontSize": 15, "align": "left", "baseline": "alphabetic", "color": "#000"},
   "encoding": {"x": {"datum": 245, "axis": null}, "y": {"datum": 92, "axis": null}}},
  {"mark": {"type": "text", "text": "]", "fontSize": 29, "align": "left", "baseline": "alphabetic", "color": "#000"},
   "encoding": {"x": {"datum": 263, "axis": null}, "y": {"datum": 100, "axis": null}}},
  {"mark": {"type": "text", "text": "e", "fontSize": 16, "align": "left", "baseline": "alphabetic", "color": "#000"},
   "encoding": {"x": {"datum": 272.5, "axis": null}, "y": {"datum": 108, "axis": null}}},
  {"mark": {"type": "text", "text": "free", "fontSize": 28, "align": "center", "baseline": "alphabetic", "color": "#000"},
   "encoding": {"x": {"datum": 235, "axis": null}, "y": {"datum": 136, "axis": null}}}
 ]
},
{
 "width": 294, "height": 200,
 "data": {"name": "bot"},
 "view": {"stroke": "#8c8c8c"},
 "layer": [
  {"mark": {"type": "errorbar", "color": "#c4e3fb", "thickness": 2.2, "clip": true},
   "encoding": {
     "x": {"field": "t", "type": "quantitative", "title": "Elapsed time (h)", "scale": {"domain": [0, 18], "nice": false},
           "axis": {"title": "Elapsed time (h)", "titleFontSize": 23, "titlePadding": 8, "values": [0,1,2,3,4,5,6,7,8,9,10,11,12,13,14,15,16,17,18], "labelExpr": "datum.value % 2 == 0 ? datum.label : ''", "labelFlush": false, "labelOverlap": false, "tickSize": 4, "labelPadding": 3}},
     "y": {"field": "d", "type": "quantitative", "title": "Normalized intensity (a.u.)", "scale": {"domain": [0, 1], "nice": false, "clamp": true},
           "axis": {"title": "Normalized intensity (a.u.)", "titleFontSize": 14.5, "titlePadding": 8, "values": [0,0.1,0.2,0.3,0.4,0.5,0.6,0.7,0.8,0.9,1], "labelExpr": "round(datum.value*10) % 2 == 0 ? format(datum.value, '.1f') : ''", "labelOverlap": false, "tickSize": 4, "labelPadding": 2}},
     "yError": {"field": "de"}}},
  {"mark": {"type": "errorbar", "color": "#ffcfe3", "thickness": 2.2, "clip": true},
   "encoding": {
     "x": {"field": "t", "type": "quantitative", "title": "Elapsed time (h)", "scale": {"domain": [0, 18], "nice": false},
           "axis": {"title": "Elapsed time (h)", "titleFontSize": 23, "titlePadding": 8, "values": [0,1,2,3,4,5,6,7,8,9,10,11,12,13,14,15,16,17,18], "labelExpr": "datum.value % 2 == 0 ? datum.label : ''", "labelFlush": false, "labelOverlap": false, "tickSize": 4, "labelPadding": 3}},
     "y": {"field": "r", "type": "quantitative", "title": "Normalized intensity (a.u.)", "scale": {"domain": [0, 1], "nice": false, "clamp": true},
           "axis": {"title": "Normalized intensity (a.u.)", "titleFontSize": 14.5, "titlePadding": 8, "values": [0,0.1,0.2,0.3,0.4,0.5,0.6,0.7,0.8,0.9,1], "labelExpr": "round(datum.value*10) % 2 == 0 ? format(datum.value, '.1f') : ''", "labelOverlap": false, "tickSize": 4, "labelPadding": 2}},
     "yError": {"field": "re"}}},
  {"mark": {"type": "point", "filled": false, "color": "#3aa3f5", "size": 20, "strokeWidth": 1, "opacity": 1},
   "encoding": {
     "x": {"field": "t", "type": "quantitative", "title": "Elapsed time (h)", "scale": {"domain": [0, 18], "nice": false},
           "axis": {"title": "Elapsed time (h)", "titleFontSize": 23, "titlePadding": 8, "values": [0,1,2,3,4,5,6,7,8,9,10,11,12,13,14,15,16,17,18], "labelExpr": "datum.value % 2 == 0 ? datum.label : ''", "labelFlush": false, "labelOverlap": false, "tickSize": 4, "labelPadding": 3}},
     "y": {"field": "d", "type": "quantitative", "title": "Normalized intensity (a.u.)", "scale": {"domain": [0, 1], "nice": false, "clamp": true},
           "axis": {"title": "Normalized intensity (a.u.)", "titleFontSize": 14.5, "titlePadding": 8, "values": [0,0.1,0.2,0.3,0.4,0.5,0.6,0.7,0.8,0.9,1], "labelExpr": "round(datum.value*10) % 2 == 0 ? format(datum.value, '.1f') : ''", "labelOverlap": false, "tickSize": 4, "labelPadding": 2}}}},
  {"mark": {"type": "point", "filled": false, "color": "#ff58a6", "size": 20, "strokeWidth": 1, "opacity": 1},
   "encoding": {
     "x": {"field": "t", "type": "quantitative", "title": "Elapsed time (h)", "scale": {"domain": [0, 18], "nice": false},
           "axis": {"title": "Elapsed time (h)", "titleFontSize": 23, "titlePadding": 8, "values": [0,1,2,3,4,5,6,7,8,9,10,11,12,13,14,15,16,17,18], "labelExpr": "datum.value % 2 == 0 ? datum.label : ''", "labelFlush": false, "labelOverlap": false, "tickSize": 4, "labelPadding": 3}},
     "y": {"field": "r", "type": "quantitative", "title": "Normalized intensity (a.u.)", "scale": {"domain": [0, 1], "nice": false, "clamp": true},
           "axis": {"title": "Normalized intensity (a.u.)", "titleFontSize": 14.5, "titlePadding": 8, "values": [0,0.1,0.2,0.3,0.4,0.5,0.6,0.7,0.8,0.9,1], "labelExpr": "round(datum.value*10) % 2 == 0 ? format(datum.value, '.1f') : ''", "labelOverlap": false, "tickSize": 4, "labelPadding": 2}}}},
  {"mark": {"type": "line", "color": "#000", "strokeWidth": 1.3, "strokeDash": [3, 2]},
   "encoding": {
     "x": {"field": "t", "type": "quantitative", "title": "Elapsed time (h)", "scale": {"domain": [0, 18], "nice": false},
           "axis": {"title": "Elapsed time (h)", "titleFontSize": 23, "titlePadding": 8, "values": [0,1,2,3,4,5,6,7,8,9,10,11,12,13,14,15,16,17,18], "labelExpr": "datum.value % 2 == 0 ? datum.label : ''", "labelFlush": false, "labelOverlap": false, "tickSize": 4, "labelPadding": 3}},
     "y": {"field": "df", "type": "quantitative", "title": "Normalized intensity (a.u.)", "scale": {"domain": [0, 1], "nice": false, "clamp": true},
           "axis": {"title": "Normalized intensity (a.u.)", "titleFontSize": 14.5, "titlePadding": 8, "values": [0,0.1,0.2,0.3,0.4,0.5,0.6,0.7,0.8,0.9,1], "labelExpr": "round(datum.value*10) % 2 == 0 ? format(datum.value, '.1f') : ''", "labelOverlap": false, "tickSize": 4, "labelPadding": 2}}}},
  {"mark": {"type": "line", "color": "#000", "strokeWidth": 1.3, "strokeDash": [3, 2]},
   "encoding": {
     "x": {"field": "t", "type": "quantitative", "title": "Elapsed time (h)", "scale": {"domain": [0, 18], "nice": false},
           "axis": {"title": "Elapsed time (h)", "titleFontSize": 23, "titlePadding": 8, "values": [0,1,2,3,4,5,6,7,8,9,10,11,12,13,14,15,16,17,18], "labelExpr": "datum.value % 2 == 0 ? datum.label : ''", "labelFlush": false, "labelOverlap": false, "tickSize": 4, "labelPadding": 3}},
     "y": {"field": "rf", "type": "quantitative", "title": "Normalized intensity (a.u.)", "scale": {"domain": [0, 1], "nice": false, "clamp": true},
           "axis": {"title": "Normalized intensity (a.u.)", "titleFontSize": 14.5, "titlePadding": 8, "values": [0,0.1,0.2,0.3,0.4,0.5,0.6,0.7,0.8,0.9,1], "labelExpr": "round(datum.value*10) % 2 == 0 ? format(datum.value, '.1f') : ''", "labelOverlap": false, "tickSize": 4, "labelPadding": 2}}}},
  {"data": {"values": [{}]},
   "mark": {"type": "text", "text": "Rhod4-AM", "fontSize": 14.5, "align": "right", "baseline": "middle", "color": "#ff3a93"},
   "encoding": {
     "x": {"datum": 13.42, "scale": {"domain": [0, 18], "nice": false}, "axis": {"title": "Elapsed time (h)", "titleFontSize": 23, "titlePadding": 8, "values": [0,1,2,3,4,5,6,7,8,9,10,11,12,13,14,15,16,17,18], "labelExpr": "datum.value % 2 == 0 ? datum.label : ''", "labelFlush": false, "labelOverlap": false, "tickSize": 4, "labelPadding": 3}},
     "y": {"datum": 0.187, "scale": {"domain": [0, 1], "nice": false, "clamp": true}, "axis": {"title": "Normalized intensity (a.u.)", "titleFontSize": 14.5, "titlePadding": 8, "values": [0,0.1,0.2,0.3,0.4,0.5,0.6,0.7,0.8,0.9,1], "labelExpr": "round(datum.value*10) % 2 == 0 ? format(datum.value, '.1f') : ''", "labelOverlap": false, "tickSize": 4, "labelPadding": 2}}}},
  {"data": {"values": [{}]},
   "mark": {"type": "text", "text": "/", "fontSize": 14.5, "align": "center", "baseline": "middle", "color": "#000"},
   "encoding": {
     "x": {"datum": 13.85, "scale": {"domain": [0, 18], "nice": false}, "axis": {"title": "Elapsed time (h)", "titleFontSize": 23, "titlePadding": 8, "values": [0,1,2,3,4,5,6,7,8,9,10,11,12,13,14,15,16,17,18], "labelExpr": "datum.value % 2 == 0 ? datum.label : ''", "labelFlush": false, "labelOverlap": false, "tickSize": 4, "labelPadding": 3}},
     "y": {"datum": 0.187, "scale": {"domain": [0, 1], "nice": false, "clamp": true}, "axis": {"title": "Normalized intensity (a.u.)", "titleFontSize": 14.5, "titlePadding": 8, "values": [0,0.1,0.2,0.3,0.4,0.5,0.6,0.7,0.8,0.9,1], "labelExpr": "round(datum.value*10) % 2 == 0 ? format(datum.value, '.1f') : ''", "labelOverlap": false, "tickSize": 4, "labelPadding": 2}}}},
  {"data": {"values": [{}]},
   "mark": {"type": "text", "text": "DRAQ7", "fontSize": 14.5, "align": "right", "baseline": "middle", "color": "#1e98ff"},
   "encoding": {
     "x": {"datum": 17.34, "scale": {"domain": [0, 18], "nice": false}, "axis": {"title": "Elapsed time (h)", "titleFontSize": 23, "titlePadding": 8, "values": [0,1,2,3,4,5,6,7,8,9,10,11,12,13,14,15,16,17,18], "labelExpr": "datum.value % 2 == 0 ? datum.label : ''", "labelFlush": false, "labelOverlap": false, "tickSize": 4, "labelPadding": 3}},
     "y": {"datum": 0.187, "scale": {"domain": [0, 1], "nice": false, "clamp": true}, "axis": {"title": "Normalized intensity (a.u.)", "titleFontSize": 14.5, "titlePadding": 8, "values": [0,0.1,0.2,0.3,0.4,0.5,0.6,0.7,0.8,0.9,1], "labelExpr": "round(datum.value*10) % 2 == 0 ? format(datum.value, '.1f') : ''", "labelOverlap": false, "tickSize": 4, "labelPadding": 2}}}}
 ]
},
{
 "width": 286, "height": 200,
 "data": {"name": "hm"},
 "transform": [
   {"filter": "datum.p == 'bot'"},
   {"flatten": ["v"]},
   {"window": [{"op": "row_number", "as": "i"}], "groupby": ["p", "r"]},
   {"lookup": "i", "from": {"data": {"name": "bins"}, "key": "i", "fields": ["t0", "t1"]}}
 ],
 "mark": {"type": "rect"},
 "encoding": {
   "x": {"field": "t0", "type": "quantitative", "scale": {"domain": [0, 18], "nice": false},
         "axis": {"title": "Elapsed time (h)", "titleFontSize": 23, "titlePadding": 8, "values": [0,1,2,3,4,5,6,7,8,9,10,11,12,13,14,15,16,17,18], "labelExpr": "datum.value % 2 == 0 ? datum.label : ''", "labelFlush": false, "labelOverlap": false, "tickSize": 4, "labelPadding": 3}},
   "x2": {"field": "t1"},
   "y": {"field": "r", "type": "ordinal", "scale": {"paddingInner": 0.1, "paddingOuter": 0}, "axis": null},
   "color": {"field": "v", "type": "quantitative", "scale": {"domain": [0, 1], "range": ["#2b2b2b", "#f4f4f4"]}, "legend": null}
 }
}
]
}
